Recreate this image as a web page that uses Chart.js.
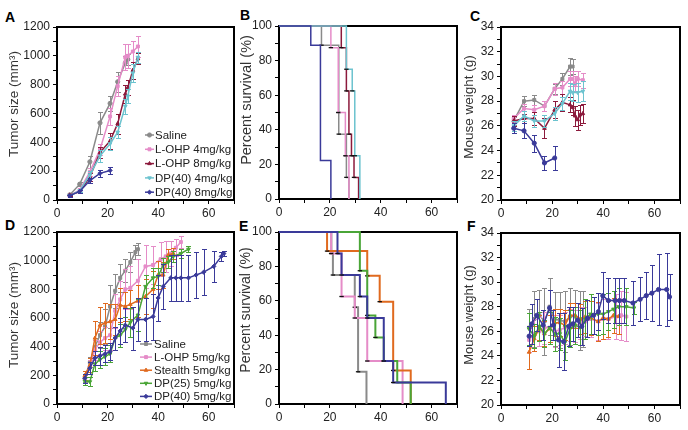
<!DOCTYPE html>
<html><head><meta charset="utf-8"><title>Tumor study</title>
<script src="https://cdn.jsdelivr.net/npm/chart.js@4.4.1/dist/chart.umd.min.js"></script>
<style>
html,body{margin:0;padding:0;background:#fff;}
body{width:688px;height:430px;position:relative;overflow:hidden;}
.box{position:absolute;}
.box canvas{display:block;}
.lbl{position:absolute;font:bold 14px 'Liberation Sans',Arial,sans-serif;color:#000;line-height:14px;}
</style></head><body>
<div class="lbl" style="left:5px;top:10px">A</div>
<div class="lbl" style="left:240px;top:8px">B</div>
<div class="lbl" style="left:470px;top:9px">C</div>
<div class="lbl" style="left:5px;top:218px">D</div>
<div class="lbl" style="left:239px;top:219px">E</div>
<div class="lbl" style="left:467px;top:219px">F</div>
<script>
// ================= DATA =================
// Panel A: tumour size (mm3) vs day
const A_saline_day = [5,9,13,17,21,24,27,28];
const A_saline_val = [35,110,265,535,670,820,950,975];
const A_saline_err = [10,15,40,75,50,70,50,40];
const A_lohp4_day = [5,9,13,17,21,24,27,28,30,32];
const A_lohp4_val = [30,70,195,350,580,790,990,1000,1030,1065];
const A_lohp4_err = [8,15,30,40,60,70,90,85,70,75];
const A_lohp8_day = [5,9,13,17,21,24,27,28,30,32];
const A_lohp8_val = [35,58,160,330,410,530,735,780,900,980];
const A_lohp8_err = [8,12,25,40,55,70,60,50,60,40];
const A_dp4_day = [5,9,13,17,21,24,27,28,30,32];
const A_dp4_val = [30,65,175,305,390,470,650,720,880,990];
const A_dp4_err = [8,12,25,40,45,40,50,50,60,40];
const A_dp8_day = [5,9,13,17,21];
const A_dp8_val = [30,60,135,185,205];
const A_dp8_err = [8,10,15,25,25];

// Panel B: survival steps (day, percent)
const B_saline_t = [0,16.7,23.5,23.5,26.5,26.5,27.5];
const B_saline_s = [100,88.9,50,37.5,25,12.5,0];
const B_lohp4_t = [0,20.4,23.3,26.1,27.5];
const B_lohp4_s = [100,87.5,50,25,0];
const B_lohp8_t = [0,24.5,26.5,27.5,28.5,29.5,31.3];
const B_lohp8_s = [100,87.5,62.5,37.5,25,12.5,0];
const B_dp4_t = [0,26.5,28.8,29.8,31.8];
const B_dp4_s = [100,75,62.5,25,0];
const B_dp8_t = [0,12.5,16.3,20.4];
const B_dp8_s = [100,88.9,22.2,0];

// Panel C: mouse weight (g)
const C_saline_day = [5,9,13,17,21,24,27,28];
const C_saline_val = [26.4,28.0,28.1,27.6,29.0,29.8,30.8,30.8];
const C_saline_err = [0.3,0.4,0.4,0.4,0.4,0.5,0.7,0.6];
const C_lohp4_day = [5,9,13,17,21,24,27,28,29,30,32];
const C_lohp4_val = [26.6,27.4,27.3,27.6,29.0,29.1,29.8,29.8,29.4,29.8,29.7];
const C_lohp4_err = [0.3,0.4,0.4,0.4,0.5,0.5,0.6,0.6,0.6,0.6,0.6];
const C_lohp8_day = [5,9,13,17,21,24,27,28,29,30,31,32];
const C_lohp8_val = [26.4,26.6,26.6,25.8,27.3,27.9,27.7,27.5,26.8,26.5,26.9,27.0];
const C_lohp8_err = [0.4,0.4,0.5,0.8,0.7,0.7,0.6,0.6,0.8,0.8,0.8,0.8];
const C_dp4_day = [5,9,13,17,21,24,27,28,30,32];
const C_dp4_val = [26.0,26.8,26.4,26.4,27.0,27.8,28.8,28.7,28.7,28.8];
const C_dp4_err = [0.4,0.4,0.5,0.5,0.5,0.5,0.7,0.7,0.8,0.8];
const C_dp8_day = [5,9,13,17,21];
const C_dp8_val = [25.8,25.6,24.6,23.0,23.4];
const C_dp8_err = [0.4,0.6,0.7,0.6,1.0];

// Panel D: tumour size (mm3)
const D_saline_day = [11,13,15,17,19,21,23,25,27,29,31,32];
const D_saline_val = [180,290,400,480,540,680,790,880,930,990,1060,1080];
const D_saline_err = [25,35,60,90,120,150,120,100,80,70,50,40];
const D_lohp_day = [11,13,15,17,19,21,23,25,27,29,32,35,38,41,43,45,47,49];
const D_lohp_val = [180,260,380,430,460,480,650,730,800,810,860,960,970,1010,1030,1050,1090,1130];
const D_lohp_err = [30,50,70,80,80,100,120,130,140,150,150,150,130,120,110,90,60,40];
const D_stealth_day = [11,13,15,17,19,21,23,25,27,29,32,35,38,40,42,44,46];
const D_stealth_val = [200,270,460,550,565,575,590,690,680,695,720,750,800,900,900,1040,1050];
const D_stealth_err = [30,50,120,130,140,120,110,120,100,100,110,120,130,100,90,40,40];
const D_dp25_day = [11,13,15,17,19,21,23,25,27,29,32,35,38,40,42,44,46,49,52];
const D_dp25_val = [160,155,280,310,330,350,460,480,520,570,620,820,880,890,970,990,1030,1050,1080];
const D_dp25_err = [30,30,50,60,60,60,80,80,90,100,110,80,70,60,50,40,40,30,20];
const D_dp40_day = [11,13,15,17,19,21,23,25,27,30,32,35,38,40,42,45,47,49,52,55,58,62,65,66];
const D_dp40_val = [180,250,320,335,350,365,460,510,550,530,590,590,610,740,820,880,880,880,880,900,920,960,1030,1050];
const D_dp40_err = [30,40,50,60,60,60,80,90,120,150,150,150,160,160,160,160,160,160,160,160,160,110,30,20];

// Panel E: survival steps
const E_saline_t = [0,20.6,21.2,29.8,31.1,34.4];
const E_saline_s = [100,87.5,75,56.25,18.75,0];
const E_lohp_t = [0,20.5,24.6,29.8,34.7,48.6];
const E_lohp_s = [100,87.5,62.5,50,25,0];
const E_stealth_t = [0,18.9,34.7,39.6,44.9,51.8];
const E_stealth_s = [100,88.9,74.5,59.5,19.5,0];
const E_dp25_t = [0,31.8,34.7,37.9,41.2,46.5,51.8];
const E_dp25_s = [100,77.5,51.5,38.7,25,12.5,0];
const E_dp40_t = [0,23,24.6,31.8,34.7,41.2,44.9,65.6];
const E_dp40_s = [100,87.5,75,62.5,50,25,12.5,0];

// Panel F: mouse weight (g)
const F_saline_day = [11,13,15,17,19,21,23,25,27,29,31,32];
const F_saline_val = [26.3,27.0,27.3,26.8,28.0,27.0,26.9,26.8,27.2,27.2,26.9,27.0];
const F_saline_err = [1.5,2.3,2.1,2.7,2.3,2.2,2.3,2.5,2.3,2.2,2.4,2.3];
const F_lohp_day = [11,13,15,17,19,21,23,25,27,29,31,33,35,38,40,42,45,47,49];
const F_lohp_val = [25.3,25.8,26.0,26.3,26.3,26.0,26.1,26.3,26.5,26.4,26.7,26.8,27.0,26.8,27.0,27.0,27.2,27.3,27.2];
const F_lohp_err = [1.0,1.2,1.2,1.3,1.3,1.3,1.2,1.3,1.3,1.3,1.3,1.2,1.5,1.5,1.6,1.6,1.8,2.0,2.0];
const F_stealth_day = [11,13,15,17,19,21,23,25,27,29,31,33,35,38,40,42,44,46];
const F_stealth_val = [24.3,25.4,26.3,25.8,26.2,26.7,26.7,26.5,27.3,27.3,27.0,27.2,27.1,26.8,27.1,27.0,27.3,27.2];
const F_stealth_err = [1.4,1.0,1.0,1.0,1.1,1.1,1.1,1.2,1.0,1.0,1.2,1.3,1.4,1.6,1.7,1.5,1.4,1.4];
const F_dp25_day = [11,13,15,17,19,21,23,25,27,29,31,33,35,38,40,42,44,46,49,52];
const F_dp25_val = [26.2,25.6,26.4,25.8,26.3,25.8,25.8,25.1,26.2,26.5,26.3,27.0,27.4,27.4,27.4,27.6,27.8,28.0,28.0,27.9];
const F_dp25_err = [1.3,1.0,1.2,1.1,1.3,1.4,1.3,1.4,1.5,1.5,1.4,1.6,1.6,1.7,1.6,1.5,1.5,1.5,1.5,0.5];
const F_dp40_day = [11,12,14,16.5,19,20.5,22.5,24.5,26.5,28,30,31.6,33.8,36.2,38.1,39.8,42,44.6,46.3,48.2,51.6,54.4,56.8,59,61.6,64.8,65.9];
const F_dp40_val = [25.6,26.6,27.3,26.5,27.9,26.5,25.3,25.15,26.4,26.6,26.9,26.4,27.05,27.3,27.6,28.9,28.5,28.5,28.5,28.5,28.3,28.6,28.9,29.1,29.4,29.4,28.8];
const F_dp40_err = [0.8,1.6,1.3,1.2,1.5,1.2,2.2,2.3,1.6,1.4,1.4,1.5,1.5,1.5,1.5,1.9,1.8,1.8,1.8,1.8,1.8,1.8,1.9,2.3,2.9,3.0,1.9];

const LABELS_TOP = ['Saline','L-OHP 4mg/kg','L-OHP 8mg/kg','DP(40) 4mg/kg','DP(40) 8mg/kg'];
const LABELS_BOTTOM = ['Saline','L-OHP 5mg/kg','Stealth 5mg/kg','DP(25) 5mg/kg','DP(40) 5mg/kg'];

// ================= STYLE =================
const FONT = "'Liberation Sans', Arial, Helvetica, sans-serif";
const GREY='#8a8a8a', PINK='#e58cc8', RED='#8c1a3c', CYAN='#6cc3cf', NAVY='#3a3a99', ORANGE='#e06a1f', GREEN='#4aa537';

// ================= PLUGINS =================
const boxPlugin = { id:'frame', beforeDatasetsDraw(chart){
  const {ctx, chartArea:a} = chart; ctx.save(); ctx.strokeStyle='#000'; ctx.lineWidth=2;
  ctx.strokeRect(a.left, a.top, a.right-a.left, a.bottom-a.top); ctx.restore(); } };

const errPlugin = { id:'errbars', beforeDatasetDraw(chart, args){
  const ds = chart.data.datasets[args.index]; if(!ds.err) return;
  const ctx = chart.ctx, xs = chart.scales.x, ys = chart.scales.y;
  ctx.save(); ctx.strokeStyle = ds.borderColor; ctx.lineWidth = 1; ctx.beginPath();
  ds.data.forEach((p,i)=>{ const e = ds.err[i]; if(e==null) return;
    const x = Math.round(xs.getPixelForValue(p.x))+0.5;
    const y1 = Math.round(ys.getPixelForValue(p.y-e))+0.5, y2 = Math.round(ys.getPixelForValue(p.y+e))+0.5;
    ctx.moveTo(x,y1); ctx.lineTo(x,y2);
    ctx.moveTo(x-2.5,y1); ctx.lineTo(x+2.5,y1); ctx.moveTo(x-2.5,y2); ctx.lineTo(x+2.5,y2); });
  ctx.stroke(); ctx.restore(); } };

const titlePlugin = { id:'ytitle', afterDraw(chart, args, o){
  if(!o || !o.text) return; const ctx = chart.ctx; ctx.save();
  ctx.translate(o.x, o.y); ctx.rotate(-Math.PI/2); ctx.textAlign='center'; ctx.textBaseline='middle';
  ctx.font = o.size + 'px ' + FONT; ctx.fillStyle = '#333'; ctx.fillText(o.text, 0, 0); ctx.restore(); } };

const legPlugin = { id:'inleg', afterDraw(chart, args, o){
  if(!o || o.x==null) return; const ctx = chart.ctx; ctx.save();
  chart.data.datasets.forEach((ds,i)=>{
    const y = o.y + i*o.dy;
    ctx.strokeStyle = ds.borderColor; ctx.lineWidth = 1.5;
    ctx.beginPath(); ctx.moveTo(o.x, y); ctx.lineTo(o.x+o.len, y); ctx.stroke();
    ctx.fillStyle = ds.borderColor; ctx.strokeStyle = ds.borderColor; ctx.lineWidth = 1;
    Chart.helpers.drawPoint(ctx, {pointStyle: ds.pointStyle, rotation: ds.pointRotation||0, radius: ds.pointRadius, borderWidth: 1}, o.x+o.len/2, y);
    ctx.fillStyle = '#222'; ctx.font = o.size+'px '+FONT; ctx.textBaseline='middle'; ctx.textAlign='left';
    ctx.fillText(ds.label, o.tx, y+0.5);
  });
  ctx.restore(); } };

// ================= HELPERS =================
function series(label, days, vals, errs, color, shape, rot){
  return { label, data: days.map((d,i)=>({x:d, y:vals[i]})), err: errs,
    borderColor: color, backgroundColor: color, borderWidth: 1.5,
    pointStyle: shape, pointRotation: rot||0, pointRadius: 2.1, pointBorderWidth: 1,
    pointBackgroundColor: color, pointBorderColor: color, tension: 0 };
}
function steps(label, t, s, color, width, marks){
  return { label, data: t.map((d,i)=>({x:d, y:s[i]})), stepped: true, clip: false,
    borderColor: color, backgroundColor: color, borderWidth: width, pointStyle: 'line',
    pointRadius: c => (marks && c.dataIndex>0 && c.raw && c.raw.y>0) ? 2.2 : 0,
    pointBorderColor: '#111', pointBorderWidth: 1.3 };
}
function panel(box, area, o){
  const div = document.createElement('div'); div.className='box';
  Object.assign(div.style, {left:box.left+'px', top:box.top+'px', width:box.w+'px', height:box.h+'px'});
  const cv = document.createElement('canvas'); div.appendChild(cv); document.body.appendChild(div);
  const yW = area.l-box.left, padTop = area.t-box.top, padR = box.left+box.w-area.r, xH = box.top+box.h-area.b;
  const n = o.datasets.length; o.datasets.forEach((d,i)=>{ d.order = n-i; });
  const grid = {drawOnChartArea:false, drawTicks:true, tickLength:4, color:'#000', lineWidth:1};
  return new Chart(cv, {
    type:'line', data:{datasets:o.datasets},
    options:{ responsive:true, maintainAspectRatio:false, animation:false, events:[],
      layout:{padding:{top:padTop, right:padR, left:0, bottom:0}},
      plugins:{ legend:{display:false}, tooltip:{enabled:false},
        ytitle:{text:o.title, x:o.titleX-box.left, y:o.titleY-box.top, size:o.titleSize},
        inleg: o.legend ? {x:o.legend.x-box.left, len:o.legend.len, tx:o.legend.tx-box.left, y:o.legend.y-box.top, dy:o.legend.dy, size:o.legend.size} : {} },
      scales:{
        x:{ type:'linear', min:0, max:70, afterFit:s=>{ s.height = xH; },
          ticks:{stepSize:10, autoSkip:false, maxRotation:0, padding:2, color:'#222', font:{family:FONT, size:12},
            callback:v => (v%20===0 ? String(v) : '')},
          grid, border:{display:false} },
        y:{ type:'linear', min:o.ymin, max:o.ymax, afterFit:s=>{ s.width = yW; },
          ticks:{stepSize:o.ystep, autoSkip:false, padding:3, color:'#222', font:{family:FONT, size:12},
            callback:v => (Math.round(v-o.ymin)%o.ylab===0 ? String(v) : '')},
          grid, border:{display:false} }
      } },
    plugins:[boxPlugin, errPlugin, titlePlugin, legPlugin]
  });
}

// ================= PANELS =================
panel({left:0,top:0,w:240,h:218}, {l:57,t:27,r:234,b:200}, {
  ymin:0, ymax:1200, ystep:100, ylab:200, title:'Tumor size (mm³)', titleX:14, titleY:104, titleSize:13.5,
  legend:{x:145, len:9, tx:155, y:135, dy:14.3, size:11.5},
  datasets:[
    series(LABELS_TOP[0], A_saline_day, A_saline_val, A_saline_err, GREY, 'circle'),
    series(LABELS_TOP[1], A_lohp4_day, A_lohp4_val, A_lohp4_err, PINK, 'rect'),
    series(LABELS_TOP[2], A_lohp8_day, A_lohp8_val, A_lohp8_err, RED, 'triangle'),
    series(LABELS_TOP[3], A_dp4_day, A_dp4_val, A_dp4_err, CYAN, 'triangle', 180),
    series(LABELS_TOP[4], A_dp8_day, A_dp8_val, A_dp8_err, NAVY, 'rectRot')
  ]});

panel({left:232,top:0,w:228,h:218}, {l:279,t:26,r:457,b:199}, {
  ymin:0, ymax:100, ystep:10, ylab:20, title:'Percent survival (%)', titleX:247, titleY:100, titleSize:14.5,
  datasets:[
    steps(LABELS_TOP[0], B_saline_t, B_saline_s, GREY, 1.5, true),
    steps(LABELS_TOP[1], B_lohp4_t, B_lohp4_s, PINK, 1.5, true),
    steps(LABELS_TOP[2], B_lohp8_t, B_lohp8_s, RED, 1.5, true),
    steps(LABELS_TOP[3], B_dp4_t, B_dp4_s, CYAN, 1.5, true),
    steps(LABELS_TOP[4], B_dp8_t, B_dp8_s, NAVY, 1.5, false)
  ]});

panel({left:456,top:0,w:232,h:218}, {l:501,t:27,r:680,b:200}, {
  ymin:20, ymax:34, ystep:1, ylab:2, title:'Mouse weight (g)', titleX:469, titleY:107, titleSize:13.5,
  datasets:[
    series(LABELS_TOP[0], C_saline_day, C_saline_val, C_saline_err, GREY, 'rect'),
    series(LABELS_TOP[1], C_lohp4_day, C_lohp4_val, C_lohp4_err, PINK, 'rect'),
    series(LABELS_TOP[2], C_lohp8_day, C_lohp8_val, C_lohp8_err, RED, 'triangle'),
    series(LABELS_TOP[3], C_dp4_day, C_dp4_val, C_dp4_err, CYAN, 'triangle', 180),
    series(LABELS_TOP[4], C_dp8_day, C_dp8_val, C_dp8_err, NAVY, 'circle')
  ]});

panel({left:0,top:215,w:240,h:215}, {l:57,t:232,r:234,b:404}, {
  ymin:0, ymax:1200, ystep:100, ylab:200, title:'Tumor size (mm³)', titleX:14, titleY:315, titleSize:13.5,
  legend:{x:140, len:12, tx:154, y:344, dy:13.1, size:11.5},
  datasets:[
    series(LABELS_BOTTOM[0], D_saline_day, D_saline_val, D_saline_err, GREY, 'rect'),
    series(LABELS_BOTTOM[1], D_lohp_day, D_lohp_val, D_lohp_err, PINK, 'rect'),
    series(LABELS_BOTTOM[2], D_stealth_day, D_stealth_val, D_stealth_err, ORANGE, 'triangle'),
    series(LABELS_BOTTOM[3], D_dp25_day, D_dp25_val, D_dp25_err, GREEN, 'triangle', 180),
    series(LABELS_BOTTOM[4], D_dp40_day, D_dp40_val, D_dp40_err, NAVY, 'rectRot')
  ]});

panel({left:232,top:215,w:228,h:215}, {l:279,t:232,r:457,b:404}, {
  ymin:0, ymax:100, ystep:10, ylab:20, title:'Percent survival (%)', titleX:246, titleY:310, titleSize:14,
  datasets:[
    steps(LABELS_BOTTOM[0], E_saline_t, E_saline_s, GREY, 2, true),
    steps(LABELS_BOTTOM[1], E_lohp_t, E_lohp_s, PINK, 2, true),
    steps(LABELS_BOTTOM[2], E_stealth_t, E_stealth_s, ORANGE, 2, true),
    steps(LABELS_BOTTOM[3], E_dp25_t, E_dp25_s, GREEN, 2, true),
    steps(LABELS_BOTTOM[4], E_dp40_t, E_dp40_s, NAVY, 2, true)
  ]});

panel({left:456,top:215,w:232,h:215}, {l:501,t:233,r:680,b:405}, {
  ymin:20, ymax:34, ystep:1, ylab:2, title:'Mouse weight (g)', titleX:469, titleY:315, titleSize:13,
  datasets:[
    series(LABELS_BOTTOM[0], F_saline_day, F_saline_val, F_saline_err, GREY, 'rect'),
    series(LABELS_BOTTOM[1], F_lohp_day, F_lohp_val, F_lohp_err, PINK, 'rect'),
    series(LABELS_BOTTOM[2], F_stealth_day, F_stealth_val, F_stealth_err, ORANGE, 'triangle'),
    series(LABELS_BOTTOM[3], F_dp25_day, F_dp25_val, F_dp25_err, GREEN, 'triangle', 180),
    series(LABELS_BOTTOM[4], F_dp40_day, F_dp40_val, F_dp40_err, NAVY, 'circle')
  ]});
</script>
</body></html>
